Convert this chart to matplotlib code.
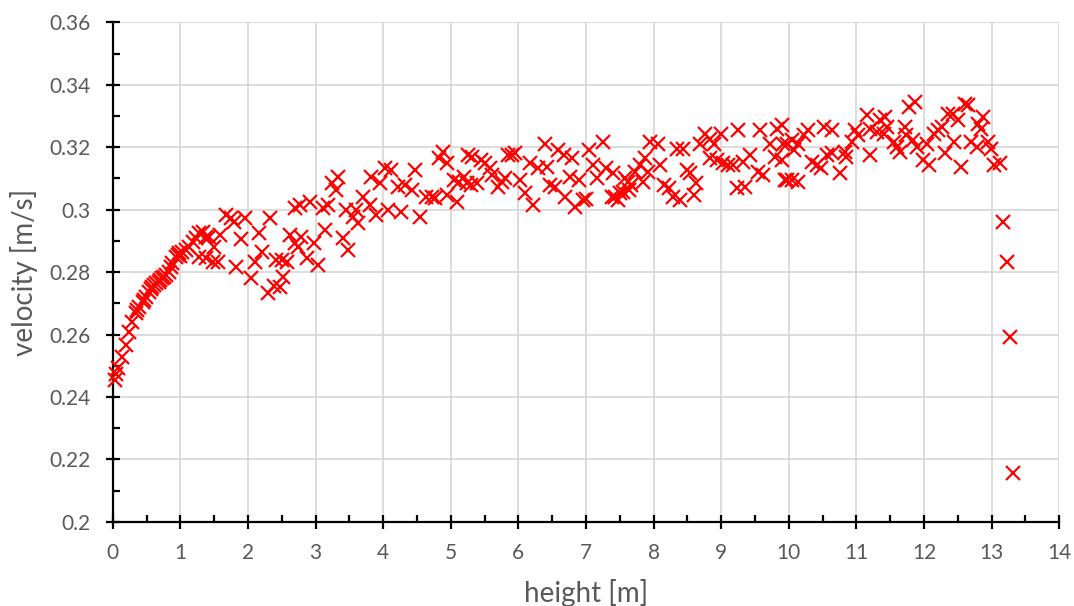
import matplotlib
matplotlib.use('Agg')
import matplotlib.pyplot as plt
from matplotlib.ticker import MultipleLocator, FuncFormatter

plt.rcParams['font.family'] = ['Lato', 'DejaVu Sans']

# measured points: height [m] and velocity [m/s]
height = [
    0.03, 0.05, 0.08, 0.13, 0.19, 0.24, 0.29, 0.34, 0.36, 0.39, 0.44, 0.46, 0.49,
    0.54, 0.56, 0.58, 0.61, 0.64, 0.68, 0.70, 0.73, 0.76, 0.78, 0.83, 0.86, 0.88,
    0.93, 0.96, 0.98, 1.00, 1.03, 1.08, 1.13, 1.18, 1.23, 1.28, 1.33, 1.38, 1.43,
    1.28, 1.38, 1.48, 1.55, 1.58, 1.50,
    1.68, 1.75, 1.79, 1.95, 2.32, 1.90, 2.16, 2.21, 2.10, 1.83, 2.05, 2.30, 2.39,
    2.41,
    2.50, 2.57, 2.47, 2.52, 2.62, 2.69, 2.79, 2.74, 2.87, 2.97, 3.04, 2.69, 2.77,
    2.92, 3.11, 3.19, 3.14, 3.24, 3.33, 3.30, 3.40, 3.48, 3.45, 3.60, 3.70, 3.63,
    3.55, 3.80, 3.90, 3.82, 3.95, 4.02, 4.12, 4.07, 4.27, 4.22, 4.32, 4.42, 4.47,
    4.54, 4.64, 4.72, 4.77, 4.89, 4.82,
    4.94, 5.04, 5.09, 4.94, 5.12, 5.26, 5.31, 5.19, 5.24, 5.30, 5.39, 5.44, 5.51,
    5.58, 5.61, 5.70, 5.75, 5.80, 5.85, 5.90, 5.95, 6.02, 6.10, 6.22, 6.17, 6.29,
    6.39, 6.42, 6.47, 6.54, 6.59, 6.67, 6.79, 6.69, 6.84, 6.77, 6.89, 6.96, 7.00,
    7.04, 7.25, 7.11, 7.16, 7.30, 7.38, 7.40,
    7.43, 7.47, 7.50, 7.55, 7.57, 7.62, 7.64, 7.67, 7.72, 7.80, 7.87, 7.85, 7.95,
    8.07, 7.92, 8.10, 8.15, 8.22, 8.29, 8.39, 8.34, 8.44, 8.49, 8.54, 8.62, 8.59,
    8.69, 8.76, 8.84, 8.89, 9.00, 8.84, 8.93, 9.03, 9.10, 9.18, 9.25, 9.23, 9.35,
    9.32, 9.42, 9.57, 9.55, 9.62, 9.72, 9.82, 9.80, 9.90, 9.95, 9.92,
    9.90, 9.97, 10.04, 10.07, 10.14, 10.22, 10.29, 9.97, 10.04, 10.14, 10.34,
    10.42, 10.47, 10.52, 10.64, 10.56, 10.64, 10.75, 10.83, 10.85, 10.93, 10.98,
    11.03, 11.15, 11.20, 11.20, 11.30, 11.35, 11.42, 11.45, 11.40, 11.55, 11.60,
    11.65, 11.72, 11.77, 11.87, 11.84, 11.89, 11.99, 12.07, 11.74,
    12.05, 12.15, 12.20, 12.26, 12.31, 12.36, 12.43, 12.50, 12.45, 12.55, 12.60,
    12.65, 12.70, 12.78, 12.80, 12.87, 12.84, 12.94, 12.99, 13.04, 13.12,
    13.17, 13.22, 13.27, 13.32,
]
velocity = [
    0.2454, 0.2475, 0.2492, 0.2529, 0.2566, 0.2609, 0.2641, 0.2668, 0.2678, 0.2689,
    0.2705, 0.2712, 0.2721, 0.2737, 0.2745, 0.2753, 0.2760, 0.2764, 0.2769, 0.2775,
    0.2780, 0.2785, 0.2790, 0.2801, 0.2815, 0.2828, 0.2849, 0.2855, 0.2860, 0.2850,
    0.2865, 0.2870, 0.2881, 0.2897, 0.2908, 0.2924, 0.2929, 0.2913, 0.2913,
    0.2849, 0.2844, 0.2833, 0.2833, 0.2918, 0.2881,
    0.2982, 0.2972, 0.2960, 0.2972, 0.2972, 0.2905, 0.2924, 0.2865, 0.2833, 0.2817,
    0.2780, 0.2732, 0.2755, 0.2840,
    0.2838, 0.2833, 0.2753, 0.2785, 0.2918, 0.2892, 0.2913, 0.2881, 0.2844, 0.2892,
    0.2822, 0.3004, 0.3014, 0.3025, 0.3004, 0.3014, 0.2934, 0.3084, 0.3105, 0.3062,
    0.2908, 0.2870, 0.2998, 0.2998, 0.3041, 0.2956, 0.2977, 0.3014, 0.2982, 0.3105,
    0.3084, 0.3132, 0.3126, 0.2998, 0.2993, 0.3073, 0.3078, 0.3062, 0.3126, 0.2977,
    0.3041, 0.3041, 0.3036, 0.3185, 0.3164,
    0.3148, 0.3094, 0.3025, 0.3046, 0.3089, 0.3174, 0.3169, 0.3105, 0.3084, 0.3078,
    0.3084, 0.3158, 0.3148, 0.3132, 0.3110, 0.3073, 0.3090, 0.3100, 0.3174, 0.3174,
    0.3180, 0.3094, 0.3052, 0.3014, 0.3148, 0.3132, 0.3212, 0.3137, 0.3078, 0.3073,
    0.3190, 0.3174, 0.3164, 0.3041, 0.3009, 0.3105, 0.3094, 0.3030, 0.3035, 0.3190,
    0.3217, 0.3142, 0.3100, 0.3132, 0.3041, 0.3116,
    0.3041, 0.3030, 0.3052, 0.3057, 0.3100, 0.3089, 0.3062, 0.3078, 0.3121, 0.3142,
    0.3164, 0.3089, 0.3217, 0.3212, 0.3121, 0.3142, 0.3078, 0.3068, 0.3041, 0.3030,
    0.3196, 0.3196, 0.3126, 0.3116, 0.3084, 0.3046, 0.3212, 0.3244, 0.3228, 0.3212,
    0.3244, 0.3164, 0.3158, 0.3148, 0.3142, 0.3142, 0.3254, 0.3068, 0.3073, 0.3153,
    0.3174, 0.3254, 0.3121, 0.3110, 0.3212, 0.3260, 0.3169, 0.3158, 0.3094, 0.3212,
    0.3270, 0.3212, 0.3222, 0.3190, 0.3212, 0.3238, 0.3254, 0.3094, 0.3094, 0.3089,
    0.3153, 0.3142, 0.3132, 0.3265, 0.3254, 0.3174, 0.3180, 0.3116, 0.3185, 0.3169,
    0.3217, 0.3254, 0.3238, 0.3302, 0.3174, 0.3260, 0.3249, 0.3286, 0.3296, 0.3265,
    0.3244, 0.3217, 0.3201, 0.3185, 0.3265, 0.3329, 0.3345, 0.3222, 0.3201, 0.3158,
    0.3142, 0.3238,
    0.3212, 0.3244, 0.3254, 0.3265, 0.3180, 0.3305, 0.3305, 0.3286, 0.3217, 0.3137,
    0.3338, 0.3334, 0.3217, 0.3201, 0.3276, 0.3296, 0.3260, 0.3217, 0.3196, 0.3142,
    0.3148, 0.2961, 0.2833, 0.2593, 0.2156,
]

x_ticks = range(0, 15)
y_min, y_max = 0.2, 0.36

fig = plt.figure(figsize=(10.74, 6.06), dpi=100)
ax = fig.add_axes([0.105, 0.139, 0.8813, 0.824])

ax.plot(height, velocity, linestyle='none', marker='x', color='#ff0000',
        markersize=10, markeredgewidth=1.6, clip_on=False, zorder=3)

ax.set_xlim(0, 14)
ax.set_ylim(y_min, y_max)
ax.set_xticks(list(x_ticks))
ax.xaxis.set_minor_locator(MultipleLocator(0.5))
ax.yaxis.set_major_locator(MultipleLocator(0.02))
ax.yaxis.set_minor_locator(MultipleLocator(0.01))
ax.yaxis.set_major_formatter(FuncFormatter(lambda v, p: f'{round(v, 2):g}'))

ax.grid(True, which='major', color='#d9d9d9', linewidth=1.3, zorder=0)
ax.set_axisbelow(True)

for s in ['top', 'right']:
    ax.spines[s].set_visible(False)
for s in ['left', 'bottom']:
    ax.spines[s].set_color('black')
    ax.spines[s].set_linewidth(1.6)

ax.tick_params(which='major', direction='inout', length=10, width=1.6,
               color='black', labelsize=15, labelcolor='#595959')
ax.tick_params(axis='x', which='major', pad=10)
ax.tick_params(axis='y', which='major', pad=11)
ax.tick_params(which='minor', direction='in', length=5, width=1.6, color='black')

ax.set_xlabel('height [m]', fontsize=20, color='#595959', labelpad=12)
ax.set_ylabel('velocity [m/s]', fontsize=20, color='#595959', labelpad=8)

fig.savefig('out.png', dpi=100)
